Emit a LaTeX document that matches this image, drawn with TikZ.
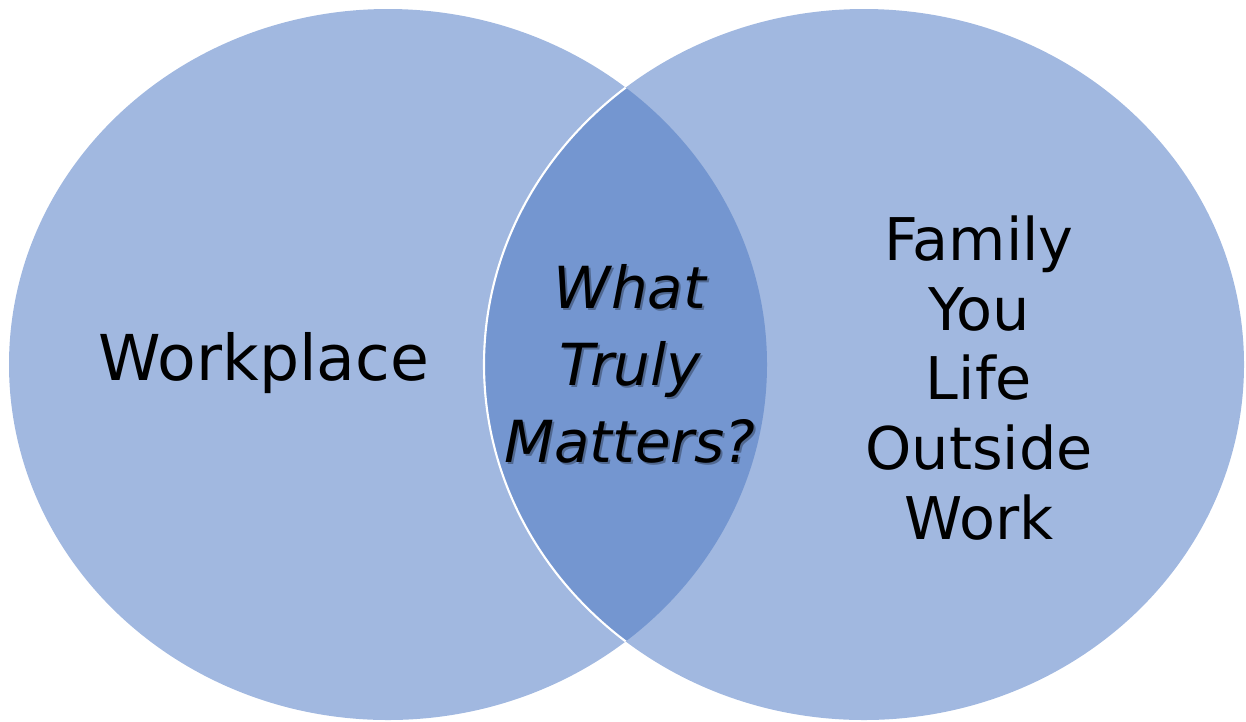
\documentclass[tikz,border=0pt]{standalone}
\usepackage{fontspec}
\setmainfont{DejaVu Sans}
\usetikzlibrary{positioning}
\definecolor{vennlight}{HTML}{A1B8E0}
\definecolor{venndark}{HTML}{7496D0}
\tikzset{
  venntext/.style={align=center, text=black, inner sep=0pt},
}

\begin{document}
\begin{tikzpicture}[x=0.02cm,y=-0.02cm]
        \useasboundingbox (0,0) rectangle (1246,721);
        \fill[vennlight] (388,364.5) ellipse (379 and 355.5);
        \fill[vennlight] (864,364.5) ellipse (380 and 355.5);
        
        \begin{scope}
          \clip (388,364.5) ellipse (379 and 355.5);
          \fill[venndark] (864,364.5) ellipse (380 and 355.5);
          \draw[white, line width=1.2pt] (864,364.5) ellipse (380 and 355.5);
        \end{scope}
        
        \node[venntext, font=\fontsize{36}{44}\selectfont] (work) at (264,363) {Workplace};
        \node[venntext, font=\fontsize{33.5}{39.7}\selectfont] (home) at (979,378) {Family\\You\\Life\\Outside\\Work};
        
        \node[venntext, text=black, opacity=0.3, font=\itshape\fontsize{33}{44}\selectfont] (whatshadow) at (632,366) {What\\Truly\\Matters?};
        \node[venntext, font=\itshape\fontsize{33}{44}\selectfont] (what) at (630,364) {What\\Truly\\Matters?};
    \end{tikzpicture}
\end{document}
